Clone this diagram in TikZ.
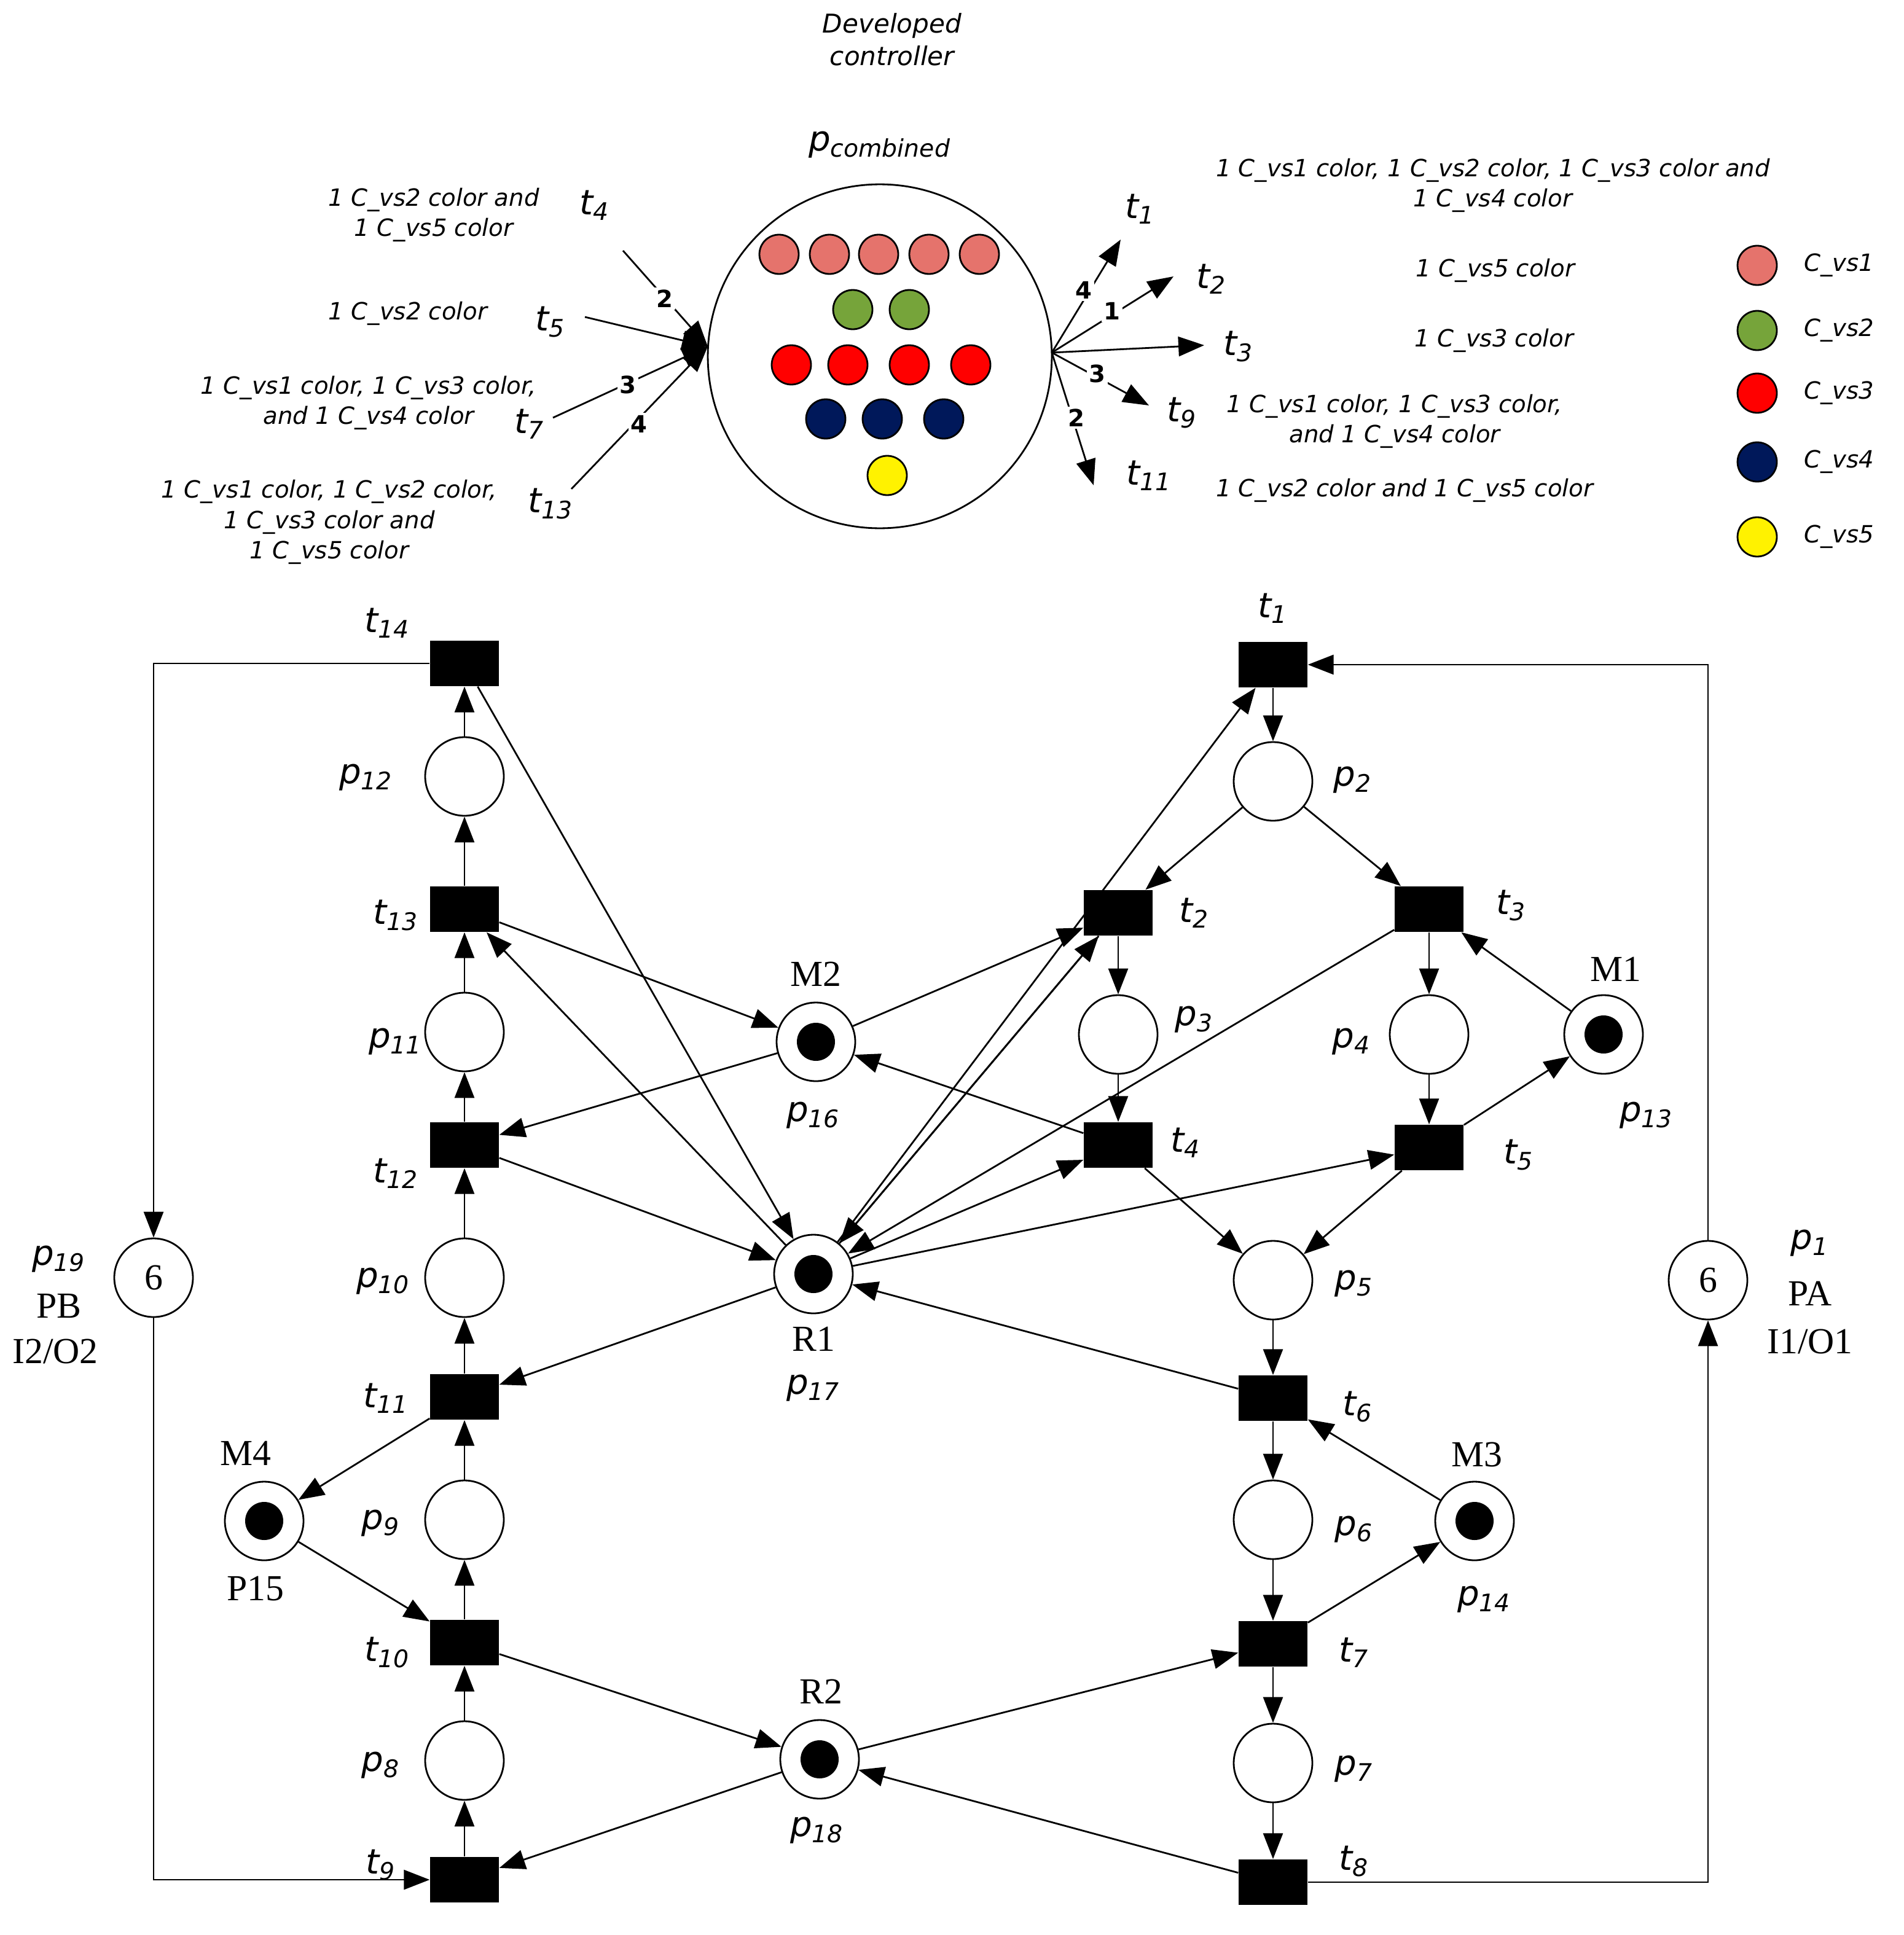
\documentclass[tikz,border=0pt]{standalone}
\usepackage{fontspec}
\setmainfont{Liberation Serif}
\setsansfont{DejaVu Sans}
\usetikzlibrary{arrows.meta}
\tikzset{
	place/.style={circle, draw, thick, minimum size=1.28cm, inner sep=0pt},
	trans/.style={rectangle, fill=black, minimum width=1.12cm, minimum height=0.74cm, inner sep=0pt},
	tok/.style={circle, fill=black, minimum size=0.62cm, inner sep=0pt},
	ctok/.style={circle, draw, thick, minimum size=0.64cm, inner sep=0pt},
	arc/.style={thick, -{Triangle[length=0.42cm, width=0.32cm]}},
	lab/.style={font=\sffamily\itshape\fontsize{16}{18}\selectfont},
	slab/.style={font=\fontsize{17}{19}\selectfont},
	txt/.style={font=\sffamily\itshape\fontsize{11}{14}\selectfont, align=center},
	wt/.style={font=\sffamily\bfseries\fontsize{11}{12}\selectfont, fill=white, inner sep=1pt}
}
\definecolor{vsone}{RGB}{229,115,108}
\definecolor{vstwo}{RGB}{118,164,58}
\definecolor{vsfour}{RGB}{0,24,90}
\begin{document}
\begin{tikzpicture}[x=0.02cm, y=-0.02cm]
		\useasboundingbox (0,0) rectangle (1549,1575);

		% Places
		\foreach \n/\x/\y in {p12/378/632, p11/378/840, p10/378/1040, p9/378/1237, p8/378/1433,
			p2/1036/636, p3/910/842, p4/1163/842, p5/1036/1042, p6/1036/1237, p7/1036/1435}
			\node[place] (\n) at (\x,\y) {};
		\foreach \n/\x/\y in {p16/664/848, p17/662/1037, p18/667/1432, p13/1305/842, p14/1200/1238, p15/215/1238}
			{\node[place] (\n) at (\x,\y) {}; \node[tok] at (\n) {};}
		\node[place, font=\fontsize{17}{19}\selectfont] (p19) at (125,1040) {6};
		\node[place, font=\fontsize{17}{19}\selectfont] (p1) at (1390,1042) {6};

		% Transitions
		\foreach \n/\x/\y in {t14/378/540, t13/378/740, t12/378/932, t11/378/1137, t10/378/1337, t9/378/1530,
			t1/1036/541, t2/910/743, t3/1163/740, t4/910/932, t5/1163/934, t6/1036/1138, t7/1036/1338, t8/1036/1532}
			\node[trans] (\n) at (\x,\y) {};

		% Labels
		\foreach \l/\i/\x/\y in {p/12/298/633, p/2/1101/635, p/11/322/848, p/10/312/1043, p/9/310/1240, p/8/310/1437,
			p/3/972/830, p/4/1100/848, p/5/1102/1045, p/6/1102/1245, p/7/1102/1440, p/16/662/908, p/13/1340/908,
			p/17/662/1130, p/14/1208/1302, p/18/665/1490, p/19/48/1025, p/1/1473/1012,
			t/14/315/507, t/1/1036/495, t/13/322/745, t/2/972/743, t/3/1230/737, t/12/322/955, t/4/965/930,
			t/5/1236/940, t/11/314/1138, t/6/1105/1145, t/10/315/1345, t/7/1102/1345, t/9/310/1518, t/8/1102/1515}
			\node[lab] at (\x,\y) {\l\textsubscript{\i}};
		\foreach \t/\x/\y in {M2/664/793, M1/1315/789, R1/662/1090, M3/1202/1184, M4/200/1183, P15/208/1293,
			R2/668/1377, PB/48/1063, {I2/O2}/45/1100, PA/1473/1053, {I1/O1}/1473/1092}
			\node[slab] at (\x,\y) {\t};

		% Process arcs
		\foreach \a/\b in {t9/p8, p8/t10, t10/p9, p9/t11, t11/p10, p10/t12, t12/p11, p11/t13, t13/p12, p12/t14,
			t1/p2, p2/t2, p2/t3, t2/p3, p3/t4, t3/p4, p4/t5, t4/p5, t5/p5, p5/t6, t6/p6, p6/t7, t7/p7, p7/t8}
			\draw[arc] (\a) -- (\b);
		\draw[arc] (t14.west) -| (p19);
		\draw[arc] (p19) |- (t9.west);
		\draw[arc] (t8.east) -| (p1);
		\draw[arc] (p1) |- (t1.east);

		% Resource arcs
		\foreach \a/\b in {t13/p16, p16/t2, p16/t12, t4/p16, t5/p13, p13/t3, t7/p14, p14/t6, t11/p15, p15/t10,
			t14/p17, p17/t13, t12/p17, p17/t11, p17/t1, p17/t2, t2/p17, t3/p17, p17/t4, p17/t5, t6/p17,
			t10/p18, p18/t7, t8/p18, p18/t9}
			\draw[arc] (\a) -- (\b);

		% Developed controller
		\node[txt, font=\sffamily\itshape\fontsize{12}{15}\selectfont] at (726,32) {Developed\\controller};
		\node[lab] at (716,118) {p\textsubscript{combined}};
		\node[circle, draw, thick, minimum size=5.6cm] (pc) at (716,290) {};
		\foreach \x in {634,675,715,756,797} \node[ctok, fill=vsone] at (\x,207) {};
		\foreach \x in {694,740} \node[ctok, fill=vstwo] at (\x,252) {};
		\foreach \x in {644,690,740,790} \node[ctok, fill=red] at (\x,297) {};
		\foreach \x in {672,718,768} \node[ctok, fill=vsfour] at (\x,341) {};
		\node[ctok, fill=yellow] at (722,387) {};

		\coordinate (cin) at (576,282);
		\coordinate (cout) at (856,287);
		\foreach \n/\x/\y/\lx/\ly in {4/507/204/484/167, 5/476/258/448/262,
			7/450/340/431/345, 13/465/398/448/410}
			{\coordinate (it\n) at (\x,\y);
			 \draw[arc] (it\n) -- (cin);
			 \node[lab] at (\lx,\ly) {t\textsubscript{\n}};}
		\node[wt] at (541,243) {2};
		\node[wt] at (511,313) {3};
		\node[wt] at (520,345) {4};
		\foreach \n/\x/\y/\lx/\ly in {1/912/195/928/170, 2/955/225/986/227, 3/980/281/1008/282,
			9/935/330/962/336, 11/890/395/935/387}
			{\coordinate (ot\n) at (\x,\y);
			 \draw[arc] (cout) -- (ot\n);
			 \node[lab] at (\lx,\ly) {t\textsubscript{\n}};}
		\node[wt] at (882,236) {4};
		\node[wt] at (905,253) {1};
		\node[wt] at (893,304) {3};
		\node[wt] at (876,340) {2};

		% Colour texts
		\node[txt] at (353,175) {1 C\_vs2 color and\\1 C\_vs5 color};
		\node[txt] at (332,255) {1 C\_vs2 color};
		\node[txt] at (300,328) {1 C\_vs1 color, 1 C\_vs3 color,\\ and 1 C\_vs4 color};
		\node[txt] at (268,425) {1 C\_vs1  color, 1 C\_vs2  color,\\1 C\_vs3  color and\\1 C\_vs5 color};
		\node[txt] at (1215,151) {1 C\_vs1  color, 1 C\_vs2  color, 1 C\_vs3  color and\\1 C\_vs4 color};
		\node[txt] at (1217,220) {1 C\_vs5 color};
		\node[txt] at (1216,277) {1 C\_vs3  color};
		\node[txt] at (1135,343) {1 C\_vs1 color, 1 C\_vs3 color,\\and 1 C\_vs4 color};
		\node[txt] at (1143,399) {1 C\_vs2 color and 1 C\_vs5 color};

		% Legend
		\foreach \c/\t/\y in {vsone/1/216, vstwo/2/269, red/3/320, vsfour/4/376, yellow/5/437}
			{\node[ctok, fill=\c] (leg\t) at (1430,\y) {};
			 \node[txt, anchor=west] at (1462,\y) {C\_vs\t};}
	\end{tikzpicture}
\end{document}
